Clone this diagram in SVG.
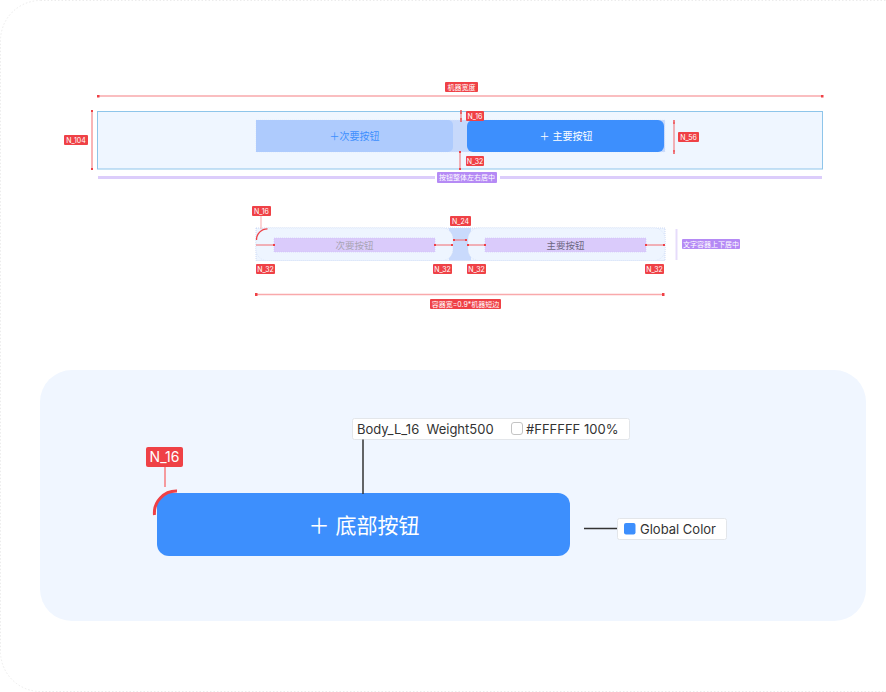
<svg xmlns="http://www.w3.org/2000/svg" width="886" height="692" viewBox="0 0 886 692">
<defs>
<style>
.t{font-family:Inter,"Noto Sans CJK SC",sans-serif}
.rl{fill:#ef4146}
.rt{fill:#fff;font-size:7px;font-family:Inter,"Noto Sans CJK SC",sans-serif;text-anchor:middle}
.dim{stroke:#f26b6f;stroke-width:1;fill:none}
.dimL{stroke:#f9a9ab;stroke-width:1.5;fill:none}
.pl{fill:#b58af5}
.pb{stroke:#dccdfb;stroke-width:3;fill:none}
.tag{fill:#fff;stroke:#e3e6ea;stroke-width:1}
</style>
<marker id="dot" viewBox="0 0 4 4" refX="2" refY="2" markerWidth="2" markerHeight="2"><rect width="4" height="4" fill="#ef4146"/></marker>
<marker id="cap" viewBox="0 0 6 2" refX="3" refY="1" markerWidth="4" markerHeight="1.5" orient="auto"><rect width="6" height="2" fill="#ef4146"/></marker>
</defs>
<rect x="0.5" y="0.5" width="940" height="691" rx="40" fill="#fff" stroke="#ececec" stroke-dasharray="1.5 2"/>

<g id="top-section">
<line class="dimL" x1="98" y1="96" x2="822" y2="96" marker-start="url(#dot)" marker-end="url(#dot)"/>
<rect class="rl" x="445" y="82" width="33" height="10" rx="1"/>
<text class="rt" x="461.5" y="89.5">机器宽度</text>
<rect x="97.5" y="111.5" width="725" height="57.5" fill="#eff6ff" stroke="#8ec5ea" stroke-width="1"/>
<line class="dim" x1="92" y1="111" x2="92" y2="169" marker-start="url(#dot)" marker-end="url(#dot)"/>
<rect class="rl" x="64" y="135" width="24" height="10" rx="1"/>
<text class="rt" x="76" y="142.5">N_104</text>
<rect x="256" y="120" width="409" height="32" fill="#c7d9fb" stroke="#d9e4fb" stroke-dasharray="1 1" stroke-width="0.5"/>
<rect x="256" y="120" width="197" height="32" rx="5" fill="#aecbfd"/>
<rect x="256" y="120" width="20" height="32" fill="#aecbfd"/>
<text class="t" x="354.5" y="139.5" font-size="10" fill="#3d8ffd" text-anchor="middle">＋次要按钮</text>
<rect x="467" y="120" width="197" height="32" rx="6" fill="#3d8ffd"/>
<text class="t" x="566" y="139.5" font-size="10" fill="#fff" text-anchor="middle">＋ 主要按钮</text>
<line class="dim" x1="461" y1="112" x2="461" y2="120" marker-start="url(#cap)" marker-end="url(#cap)"/>
<rect class="rl" x="466" y="111" width="18" height="10" rx="1"/>
<text class="rt" x="475" y="118.5">N_16</text>
<line class="dim" x1="460" y1="152" x2="460" y2="169" marker-start="url(#dot)" marker-end="url(#dot)"/>
<rect class="rl" x="466" y="156" width="18" height="10" rx="1"/>
<text class="rt" x="475" y="163.5">N_32</text>
<line class="dim" x1="674" y1="122" x2="674" y2="152" marker-start="url(#cap)" marker-end="url(#cap)"/>
<rect class="rl" x="678" y="132" width="21" height="10" rx="1"/>
<text class="rt" x="688.5" y="139.5">N_56</text>
<line class="pb" x1="98" y1="177.5" x2="435" y2="177.5"/>
<line class="pb" x1="500" y1="177.5" x2="822" y2="177.5"/>
<rect class="pl" x="437" y="172" width="60" height="11" rx="1"/>
<text class="rt" x="467" y="180">按钮整体左右居中</text>
</g>

<g id="middle-section">
<rect x="256" y="228" width="409" height="32.5" fill="#eef5ff" stroke="#c2d1f2" stroke-width="0.8" stroke-dasharray="1 1"/>
<rect x="449" y="228" width="22" height="32.5" fill="#c9dafc"/>
<rect x="256" y="228" width="197" height="32.5" rx="11" fill="#eef5ff" stroke="#d2ddf5" stroke-width="0.6" stroke-dasharray="1 1"/>
<rect x="468" y="228" width="197" height="32.5" rx="11" fill="#eef5ff" stroke="#d2ddf5" stroke-width="0.6" stroke-dasharray="1 1"/>
<rect x="274" y="238" width="161" height="14" fill="#dacbfb" stroke="#cbb8f6" stroke-width="0.5" stroke-dasharray="1 1"/>
<text class="t" x="354.5" y="248.5" font-size="9.5" fill="#a8a4b4" text-anchor="middle">次要按钮</text>
<rect x="485" y="238" width="161" height="14" fill="#dacbfb" stroke="#cbb8f6" stroke-width="0.5" stroke-dasharray="1 1"/>
<text class="t" x="565.5" y="248.5" font-size="9.5" fill="#6b6680" text-anchor="middle">主要按钮</text>
<line class="dim" x1="256" y1="245" x2="274" y2="245" marker-end="url(#dot)"/>
<line class="dim" x1="435" y1="245" x2="452" y2="245" marker-start="url(#dot)" marker-end="url(#dot)"/>
<line class="dim" x1="468" y1="245" x2="485" y2="245" marker-start="url(#dot)" marker-end="url(#dot)"/>
<line class="dim" x1="646" y1="245" x2="664" y2="245" marker-start="url(#dot)" marker-end="url(#dot)"/>
<line class="dim" x1="454" y1="240" x2="466" y2="240" marker-start="url(#dot)" marker-end="url(#dot)"/>
<path d="M256.5 240 A11 11 0 0 1 267.5 228.8" fill="none" stroke="#ef4146" stroke-width="1.3"/>
<line x1="261" y1="216" x2="261" y2="229" stroke="#f9a9ab" stroke-width="1"/>
<rect class="rl" x="252" y="206" width="19" height="10" rx="1"/>
<text class="rt" x="261.5" y="213.5">N_16</text>
<rect class="rl" x="450" y="216" width="21" height="10" rx="1"/>
<text class="rt" x="460.5" y="223.5">N_24</text>
<rect class="rl" x="256" y="264" width="19" height="10" rx="1"/>
<text class="rt" x="265.5" y="271.5">N_32</text>
<rect class="rl" x="433" y="264" width="19" height="10" rx="1"/>
<text class="rt" x="442.5" y="271.5">N_32</text>
<rect class="rl" x="467" y="264" width="19" height="10" rx="1"/>
<text class="rt" x="476.5" y="271.5">N_32</text>
<rect class="rl" x="645" y="264" width="19" height="10" rx="1"/>
<text class="rt" x="654.5" y="271.5">N_32</text>
<line x1="676.5" y1="229" x2="676.5" y2="260" stroke="#e6dcfb" stroke-width="2"/>
<rect class="pl" x="682" y="239" width="58" height="10" rx="1"/>
<text class="rt" x="711" y="246.5">文字容器上下居中</text>
<line class="dimL" x1="256" y1="294.5" x2="663" y2="294.5" marker-start="url(#dot)" marker-end="url(#dot)"/>
<rect class="rl" x="430" y="299" width="71" height="10" rx="1"/>
<text class="rt" x="465.5" y="306.5">容器宽=0.9*机器短边</text>
</g>

<g id="bottom-section">
<rect x="40" y="370" width="826" height="251" rx="32" fill="#f0f6ff"/>
</g>

<g id="bottom-button">
<rect x="157" y="493" width="413" height="63" rx="12" fill="#3d8ffd"/>
<text class="t" x="364" y="533" font-size="21" fill="#fff" text-anchor="middle">＋ 底部按钮</text>
<path d="M154.5 515 A22 22 0 0 1 177 491" fill="none" stroke="#ef4146" stroke-width="3"/>
</g>

<g id="n16-tag">
<rect class="rl" x="146" y="447" width="37" height="20" rx="2"/>
<text x="164.5" y="462" font-size="14" fill="#fff" text-anchor="middle" class="t">N_16</text>
</g>

<g id="font-tag">
<rect class="tag" x="352.5" y="418.5" width="277" height="21" rx="2"/>
<text class="t" x="357" y="434" font-size="13" fill="#333" xml:space="preserve">Body_L_16  Weight500</text>
<rect x="511.5" y="422.5" width="11" height="12" rx="2.5" fill="#fff" stroke="#c4c4c4"/>
<text class="t" x="526" y="434" font-size="13" fill="#333">#FFFFFF 100%</text>
</g>

<g id="color-tag">
<rect class="tag" x="617.5" y="518.5" width="109" height="21" rx="2"/>
<rect x="624" y="523" width="11.5" height="11.5" rx="2" fill="#3d8ffd"/>
<text class="t" x="640" y="534" font-size="13" fill="#333">Global Color</text>
</g>

<g id="connectors">
<line x1="165" y1="467" x2="165" y2="487" stroke="#f77b7e" stroke-width="1.5"/>
<line x1="363" y1="439.5" x2="363" y2="494" stroke="#333" stroke-width="1.5"/>
<line x1="584" y1="528.5" x2="617" y2="528.5" stroke="#333" stroke-width="1.5"/>
</g>
</svg>
